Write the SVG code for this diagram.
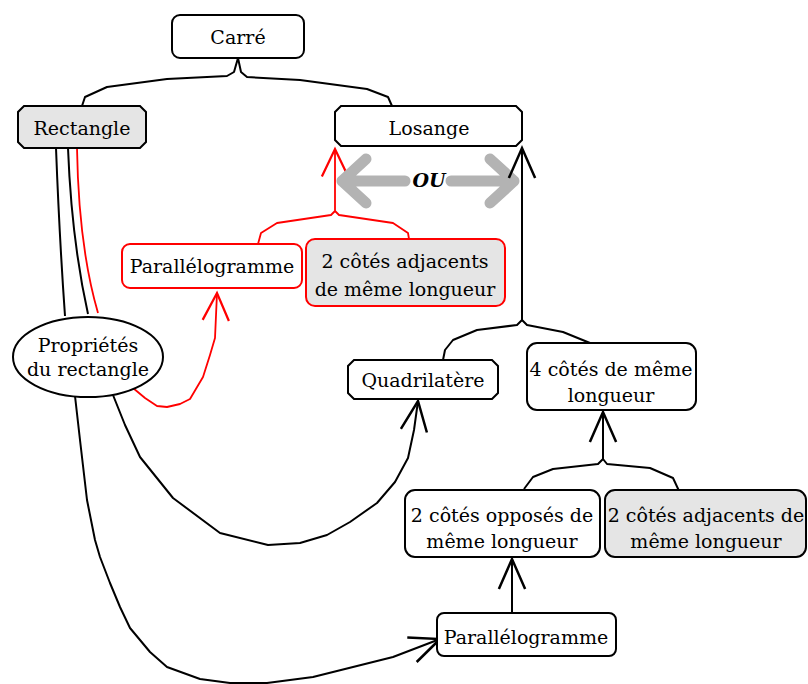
<svg xmlns="http://www.w3.org/2000/svg" width="808" height="684" viewBox="0 0 808 684">
<style>
.box{fill:#fff;stroke:#000;stroke-width:2}
.gray{fill:#e5e5e5}
.rbox{stroke:#f00}
text{font-family:"DejaVu Serif","Liberation Serif",serif;font-size:19px;fill:#000;text-anchor:middle}
.c{fill:none;stroke:#000;stroke-width:2;stroke-linejoin:round}
.r{fill:none;stroke:#f00;stroke-width:1.8;stroke-linejoin:round}
.ou{fill:none;stroke:#b3b3b3;stroke-width:11;stroke-linecap:round;stroke-linejoin:round}
.oút{font-weight:bold;font-style:italic}
</style>
<defs>
<marker id="ah" markerUnits="userSpaceOnUse" markerWidth="40" markerHeight="40" viewBox="-28 -14 32 28" refX="0" refY="0" orient="auto" overflow="visible"><path d="M-24,-10.5 L0,0 L-24,10.5" fill="none" stroke="#000" stroke-width="2"/></marker>
<marker id="ahr" markerUnits="userSpaceOnUse" markerWidth="40" markerHeight="40" viewBox="-28 -14 32 28" refX="0" refY="0" orient="auto" overflow="visible"><path d="M-22,-10.5 L0,0 L-22,10.5" fill="none" stroke="#f00" stroke-width="1.8"/></marker>
</defs>
<g id="connectors">
<path class="c" d="M82,106 L85,97 L107,87 L167,79 L227,76 L234,72 L238,58 L241,72 L247,77 L300,80 L367,89 L388,97 L392,106"/>
<path class="c" d="M56,148 C58,200 61,260 65,316"/>
<path class="c" d="M68,148 C70,200 76,260 88,314"/>
<path class="r" d="M77,148 C78,210 84,265 98,313"/>
<path class="r" d="M258,244 L261,233 L277,223 L331,215 L335,211 L335,149" marker-end="url(#ahr)"/>
<path class="r" d="M409,239 L408,233 L393,223 L339,215 L335,211"/>
<path class="r" d="M133,388 L145,398 L157,406 L167,407 L180,404 L190,399 L203,377 L210,355 L215,338 L217,293" marker-end="url(#ahr)"/>
<path class="ou" d="M342,181 L405,181 M451,181 L514,181 M366,159 L342,181 L366,203 M490,159 L514,181 L490,203"/>
<path class="c" d="M443,360 L445,350 L453,340 L477,330 L517,325 L522,320 L522,148" marker-end="url(#ah)"/>
<path class="c" d="M590,343 L563,332 L527,325 L522,320"/>
<path class="c" d="M524,489 L533,477 L553,469 L598,464 L603,459 L603,412" marker-end="url(#ah)"/>
<path class="c" d="M680,493 L673,478 L650,468 L607,464 L603,459"/>
<path class="c" d="M512,613 L512,559" marker-end="url(#ah)"/>
<path class="c" d="M113,395 L125,425 L140,457 L173,498 L220,533 L268,545 L300,543 L327,535 L350,522 L377,503 L395,482 L408,458 L414,430 L418,401" marker-end="url(#ah)"/>
<path class="c" d="M75,396 L80,440 L87,500 L95,540 L100,557 L110,583 L120,607 L130,628 L140,640 L150,652 L167,667 L200,679 L230,683 L267,683 L313,677 L393,657 L440,639" marker-end="url(#ah)"/>
<text class="oút" x="429" y="187">OU</text>
</g>
<g id="carre"><rect class="box" x="172" y="15" width="132" height="43" rx="8"/><text x="238" y="44">Carré</text></g>
<g id="rectangle"><polygon class="box gray" points="24,106 140,106 146,112 146,142 140,148 24,148 18,142 18,112"/><text x="82" y="135">Rectangle</text></g>
<g id="losange"><polygon class="box" points="341,106 516,106 522,112 522,140 516,146 341,146 335,140 335,112"/><text x="429" y="135">Losange</text></g>
<g id="para-rouge"><rect class="box rbox" x="122" y="244" width="180" height="44" rx="8"/><text x="212" y="273">Parallélogramme</text></g>
<g id="adj-rouge"><rect class="box gray rbox" x="306" y="239" width="199" height="67" rx="9"/><text x="405" y="268">2 côtés adjacents</text><text x="405" y="296">de même longueur</text></g>
<g id="proprietes"><ellipse class="box" cx="88" cy="357" rx="75" ry="40"/><text x="88" y="352">Propriétés</text><text x="88" y="376">du rectangle</text></g>
<g id="quadrilatere"><polygon class="box" points="354,360 492,360 498,366 498,393 492,399 354,399 348,393 348,366"/><text x="423" y="387">Quadrilatère</text></g>
<g id="quatre-cotes"><rect class="box" x="527" y="343" width="169" height="67" rx="10"/><text x="611" y="376">4 côtés de même</text><text x="611" y="402">longueur</text></g>
<g id="opposes"><rect class="box" x="405" y="490" width="195" height="67" rx="10"/><text x="502" y="522">2 côtés opposés de</text><text x="502" y="548">même longueur</text></g>
<g id="adjacents"><rect class="box gray" x="605" y="490" width="201" height="67" rx="10"/><text x="706" y="522">2 côtés adjacents de</text><text x="706" y="548">même longueur</text></g>
<g id="para-bas"><rect class="box" x="437" y="613" width="179" height="43" rx="7"/><text x="526" y="644">Parallélogramme</text></g>
</svg>
